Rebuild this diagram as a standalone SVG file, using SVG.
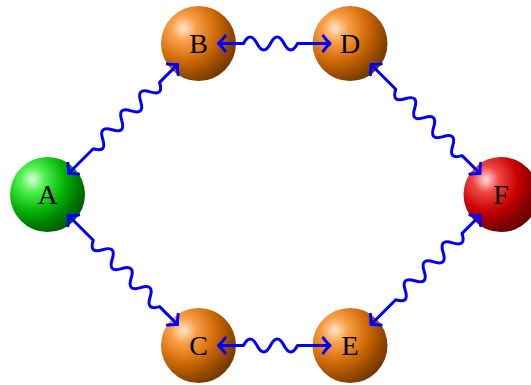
<svg xmlns="http://www.w3.org/2000/svg" width="531" height="385" viewBox="0 0 531 385">
  <style>
    .lbl { font-family: "Liberation Serif", "DejaVu Serif", serif; font-size: 28px; fill: #000; text-anchor: middle; }
    .wave { fill: none; stroke: #0000ff; stroke-width: 3; stroke-linejoin: round; marker-start: url(#ah); marker-end: url(#ah); }
  </style>
  <defs>
    <radialGradient id="gOrange" cx="0.3" cy="0.3" fx="0.3" fy="0.3" r="1">
      <stop offset="0" stop-color="#ffe6cc"/>
      <stop offset="0.17" stop-color="#f9a04a"/>
      <stop offset="0.42" stop-color="#d36c08"/>
      <stop offset="0.62" stop-color="#9a4c00"/>
      <stop offset="1" stop-color="#331a00"/>
    </radialGradient>
    <radialGradient id="gGreen" cx="0.3" cy="0.3" fx="0.3" fy="0.3" r="1">
      <stop offset="0" stop-color="#d9ffd9"/>
      <stop offset="0.17" stop-color="#4ef04e"/>
      <stop offset="0.42" stop-color="#06b406"/>
      <stop offset="0.62" stop-color="#007a00"/>
      <stop offset="1" stop-color="#002a00"/>
    </radialGradient>
    <radialGradient id="gRed" cx="0.3" cy="0.3" fx="0.3" fy="0.3" r="1">
      <stop offset="0" stop-color="#ffdede"/>
      <stop offset="0.17" stop-color="#f24848"/>
      <stop offset="0.42" stop-color="#c80000"/>
      <stop offset="0.62" stop-color="#8a0000"/>
      <stop offset="1" stop-color="#300000"/>
    </radialGradient>
    <marker id="ah" viewBox="-10 -10 14 20" refX="0" refY="0" markerWidth="14" markerHeight="20" markerUnits="userSpaceOnUse" orient="auto-start-reverse" overflow="visible">
      <path d="M-6.8,-7.6 Q-3,-2.5 0,0 Q-3,2.5 -6.8,7.6" fill="none" stroke="#0000ff" stroke-width="3" stroke-linecap="round" stroke-linejoin="round"/>
    </marker>
  </defs>

  <g id="A"><circle cx="47.5" cy="194.5" r="37.5" fill="url(#gGreen)"/><text class="lbl" x="47.5" y="204">A</text></g>
  <g id="B"><circle cx="198.5" cy="43.5" r="37.5" fill="url(#gOrange)"/><text class="lbl" x="198.5" y="53">B</text></g>
  <g id="C"><circle cx="198.5" cy="345.5" r="37.5" fill="url(#gOrange)"/><text class="lbl" x="198.5" y="355">C</text></g>
  <g id="D"><circle cx="350" cy="43.5" r="37.5" fill="url(#gOrange)"/><text class="lbl" x="350" y="53">D</text></g>
  <g id="E"><circle cx="350" cy="345.5" r="37.5" fill="url(#gOrange)"/><text class="lbl" x="350" y="355">E</text></g>
  <g id="F"><circle cx="501" cy="194.5" r="37.5" fill="url(#gRed)"/><text class="lbl" x="501" y="204">F</text></g>

  <g id="connectors">
    <path class="wave" transform="translate(218.5,43.5)" d="M0,0 H25 Q31.75,-13 38.5,0 T52,0 T65.5,0 T79,0 H111.5"/>
    <path class="wave" transform="translate(218.5,345.5)" d="M0,0 H25 Q31.75,-13 38.5,0 T52,0 T65.5,0 T79,0 H111.5"/>
    <path class="wave" transform="translate(68.5,173.5) rotate(-45)" d="M0,0 H35 Q41.7,13 48.4,0 T61.8,0 T75.2,0 T88.6,0 T102,0 T115.4,0 T128.8,0 H154.2"/>
    <path class="wave" transform="translate(68.5,215.5) rotate(45)" d="M0,0 H35 Q41.7,13 48.4,0 T61.8,0 T75.2,0 T88.6,0 T102,0 T115.4,0 T128.8,0 H154.2"/>
    <path class="wave" transform="translate(371,64.5) rotate(45)" d="M0,0 H35 Q41.7,13 48.4,0 T61.8,0 T75.2,0 T88.6,0 T102,0 T115.4,0 T128.8,0 H154.2"/>
    <path class="wave" transform="translate(371,324.5) rotate(-45)" d="M0,0 H35 Q41.7,13 48.4,0 T61.8,0 T75.2,0 T88.6,0 T102,0 T115.4,0 T128.8,0 H154.2"/>
  </g>
</svg>
